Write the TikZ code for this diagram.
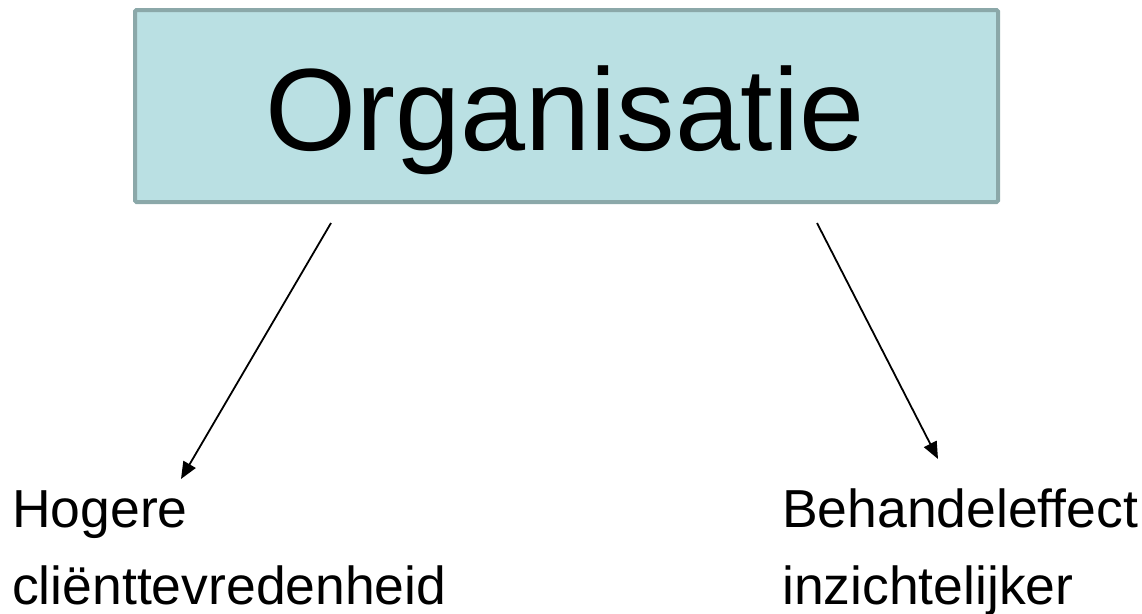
\documentclass[tikz,border=0pt]{standalone}
\usepackage{fontspec}
\setmainfont{Liberation Sans}
\usetikzlibrary{arrows.meta}
\definecolor{boxfill}{HTML}{BAE0E3}
\definecolor{boxline}{HTML}{8BA8A9}
\tikzset{
  titlebox/.style={draw=boxline, fill=boxfill, line width=4pt, rounded corners=1.5pt,
    minimum width=863pt, minimum height=192pt, inner sep=0pt},
  lbl/.style={anchor=base west, inner sep=0pt, font=\fontsize{53.5}{53.5}\selectfont},
  conn/.style={line width=1.8pt, -{Triangle[length=17pt,width=14pt]}}
}
\begin{document}
\begin{tikzpicture}[x=1pt,y=-1pt]
\useasboundingbox (0,0) rectangle (1142,613);
\node[titlebox] (org) at (566.5,106) {};
\node[anchor=base, inner sep=0pt, font=\fontsize{117}{117}\selectfont] (orgtxt) at (565,150) {Organisatie};
\node[lbl] (h1) at (12,527) {Hogere};
\node[lbl] (h2) at (12,604) {cliënttevredenheid};
\node[lbl] (b1) at (782,527) {Behandeleffect};
\node[lbl] (b2) at (782,604) {inzichtelijker};
\coordinate (ls) at (331,223);
\coordinate (le) at (181,479);
\coordinate (rs) at (817,223);
\coordinate (re) at (938,459);
\draw[conn] (ls) -- (le);
\draw[conn] (rs) -- (re);
\end{tikzpicture}
\end{document}
